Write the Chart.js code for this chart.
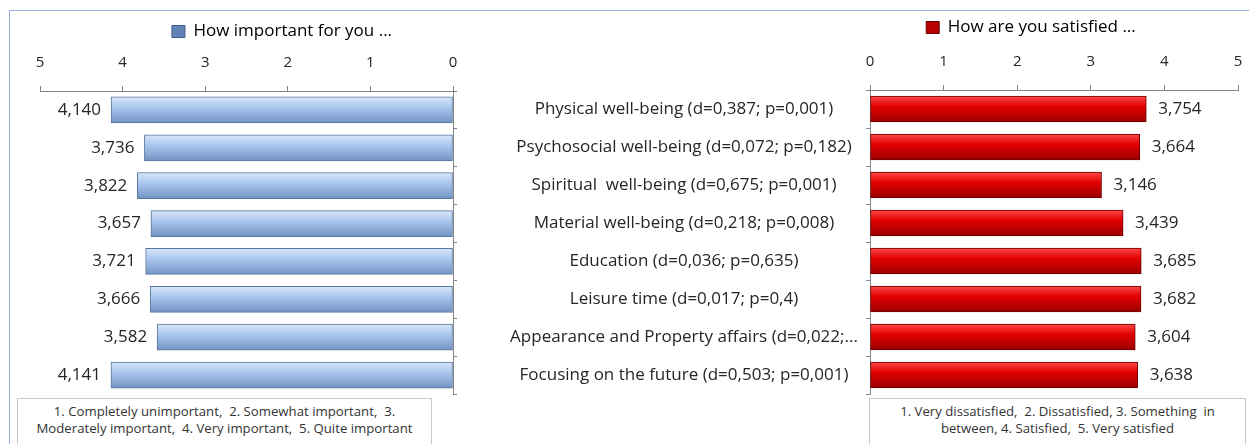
<!DOCTYPE html>
<html>
<head>
<meta charset="utf-8">
<script src="https://cdn.jsdelivr.net/npm/chart.js@4"></script>
<style>
  body { margin: 0; background: #fff; font-family: "Open Sans", "Noto Sans", sans-serif; }
  #wrap { position: relative; width: 1249px; height: 444px; overflow: hidden; }
  #frame { position: absolute; left: 9px; top: 10px; width: 1300px; height: 500px; border: 1px solid #8fb1dc; }
  .chartbox { position: absolute; top: 0; height: 400px; }
  .note { position: absolute; top: 398px; height: 50px; border: 1px solid #c9c9c9; background: #fff;
          font-size: 13.2px; line-height: 17px; color: #333; text-align: center; padding-top: 4px; box-sizing: border-box; }
</style>
</head>
<body>
<div id="wrap">
  <div id="frame"></div>
  <div class="chartbox" style="left:0;width:470px"><canvas id="leftChart"></canvas></div>
  <div class="chartbox" style="left:460px;width:789px"><canvas id="rightChart"></canvas></div>
  <div class="note" style="left:17px;width:415px">1. Completely unimportant,&nbsp; 2. Somewhat important,&nbsp; 3.<br>Moderately important,&nbsp; 4. Very important,&nbsp; 5. Quite important</div>
  <div class="note" style="left:869px;width:377px">1. Very dissatisfied,&nbsp; 2. Dissatisfied, 3. Something&nbsp; in<br>between, 4. Satisfied,&nbsp; 5. Very satisfied</div>
</div>
<script>
const categories = [
    'Physical well-being (d=0,387; p=0,001)',
    'Psychosocial well-being (d=0,072; p=0,182)',
    'Spiritual  well-being (d=0,675; p=0,001)',
    'Material well-being (d=0,218; p=0,008)',
    'Education (d=0,036; p=0,635)',
    'Leisure time (d=0,017; p=0,4)',
    'Appearance and Property affairs (d=0,022;...',
    'Focusing on the future (d=0,503; p=0,001)'
];
const importance = [4.140, 3.736, 3.822, 3.657, 3.721, 3.666, 3.582, 4.141];
const satisfaction = [3.754, 3.664, 3.146, 3.439, 3.685, 3.682, 3.604, 3.638];
const axisTicks = [0, 1, 2, 3, 4, 5];

const FONT = '"Open Sans", "Noto Sans", sans-serif';
const AXIS_GREY = '#868686';
const TEXT = '#262626';
const BAR_H = 26;
const CAT_SIZE = 17;

// category labels are centred around x=684 of the page (224 inside the right canvas)
const measureCtx = document.createElement('canvas').getContext('2d');
measureCtx.font = CAT_SIZE + 'px ' + FONT;
const widestLabel = Math.max(...categories.map(c => measureCtx.measureText(c).width));
const labelPadding = Math.max(4, 410 - 4 - 224 - widestLabel / 2);

// vertical bevel gradient per bar
function bevel(stops) {
    return function(ctx) {
        const chart = ctx.chart;
        if (!chart.chartArea || !chart.scales.y) return stops[1];
        const y = chart.scales.y.getPixelForValue(ctx.dataIndex);
        const g = chart.ctx.createLinearGradient(0, y - BAR_H / 2, 0, y + BAR_H / 2);
        g.addColorStop(0, stops[0]);
        g.addColorStop(0.4, stops[1]);
        g.addColorStop(1, stops[2]);
        return g;
    };
}

// value labels next to the bar ends
const valueLabels = {
    id: 'valueLabels',
    afterDatasetsDraw(chart, args, opts) {
        const ctx = chart.ctx;
        const meta = chart.getDatasetMeta(0);
        const data = chart.data.datasets[0].data;
        ctx.save();
        ctx.font = '17px ' + FONT;
        ctx.fillStyle = TEXT;
        ctx.textBaseline = 'middle';
        meta.data.forEach((bar, i) => {
            const txt = data[i].toFixed(3).replace('.', ',');
            if (opts.side === 'left') {
                ctx.textAlign = 'right';
                ctx.fillText(txt, bar.x - 10, bar.y);
            } else {
                ctx.textAlign = 'left';
                ctx.fillText(txt, bar.x + 12, bar.y);
            }
        });
        ctx.restore();
    }
};

// move the legend sideways so it sits where the original had it
const legendShift = {
    id: 'legendShift',
    afterLayout(chart, args, opts) {
        if (chart.legend && opts.dx) {
            chart.legend.left += opts.dx;
            chart.legend.right += opts.dx;
        }
    }
};

function legendItem(text, fill, stroke) {
    return () => [{ text: text, fillStyle: fill, strokeStyle: stroke, lineWidth: 1, datasetIndex: 0 }];
}

function xAxis(reverse, pad, height) {
    return {
        type: 'linear',
        position: 'top',
        min: 0,
        max: 5,
        reverse: reverse,
        afterBuildTicks: s => { s.ticks = axisTicks.map(v => ({ value: v })); },
        ticks: { padding: pad, color: TEXT, font: { family: FONT, size: 15 } },
        grid: { drawOnChartArea: false, tickLength: 5, color: AXIS_GREY },
        border: { color: AXIS_GREY },
        afterFit: s => { s.height = height; s.paddingLeft = 0; s.paddingRight = 0; }
    };
}

new Chart(document.getElementById('leftChart'), {
    type: 'bar',
    data: {
        labels: categories,
        datasets: [{
            label: 'How important for you ...',
            data: importance,
            backgroundColor: bevel(['#d9e7f9', '#aac7ee', '#7393c4']),
            borderColor: '#56779f',
            borderWidth: 1,
            borderSkipped: false,
            barThickness: BAR_H
        }]
    },
    options: {
        indexAxis: 'y',
        responsive: true,
        maintainAspectRatio: false,
        animation: false,
        layout: { padding: { left: 40, right: 12, top: 10, bottom: 6 } },
        scales: {
            x: xAxis(true, 14, 41),
            y: {
                position: 'right',
                ticks: { display: false },
                grid: { drawOnChartArea: false, tickLength: 4, offset: true, color: AXIS_GREY },
                border: { color: AXIS_GREY },
                afterFit: s => { s.width = 5; s.paddingTop = 0; s.paddingBottom = 0; }
            }
        },
        plugins: {
            legend: {
                labels: {
                    boxWidth: 13, boxHeight: 12, padding: 13, color: TEXT,
                    font: { family: FONT, size: 17 },
                    generateLabels: legendItem('How important for you ...', '#6283b6', '#3d5c88')
                }
            },
            tooltip: { enabled: false },
            valueLabels: { side: 'left' },
            legendShift: { dx: 33 }
        }
    },
    plugins: [valueLabels, legendShift]
});

new Chart(document.getElementById('rightChart'), {
    type: 'bar',
    data: {
        labels: categories,
        datasets: [{
            label: 'How are you satisfied ...',
            data: satisfaction,
            backgroundColor: bevel(['#ff4a4a', '#e20000', '#9a0000']),
            borderColor: '#6e0000',
            borderWidth: 1,
            borderSkipped: false,
            barThickness: BAR_H
        }]
    },
    options: {
        indexAxis: 'y',
        responsive: true,
        maintainAspectRatio: false,
        animation: false,
        layout: { padding: { left: 0, right: 11, top: 4, bottom: 6 } },
        scales: {
            x: xAxis(false, 14, 44),
            y: {
                position: 'left',
                ticks: { padding: labelPadding, crossAlign: 'center', color: TEXT, font: { family: FONT, size: CAT_SIZE } },
                grid: { drawOnChartArea: false, tickLength: 4, offset: true, color: AXIS_GREY },
                border: { color: AXIS_GREY },
                afterFit: s => { s.width = 410; s.paddingTop = 0; s.paddingBottom = 0; }
            }
        },
        plugins: {
            legend: {
                labels: {
                    boxWidth: 13, boxHeight: 12, padding: 15, color: TEXT,
                    font: { family: FONT, size: 17 },
                    generateLabels: legendItem('How are you satisfied ...', '#b80000', '#600000')
                }
            },
            tooltip: { enabled: false },
            valueLabels: { side: 'right' },
            legendShift: { dx: 182 }
        }
    },
    plugins: [valueLabels, legendShift]
});
</script>
</body>
</html>
